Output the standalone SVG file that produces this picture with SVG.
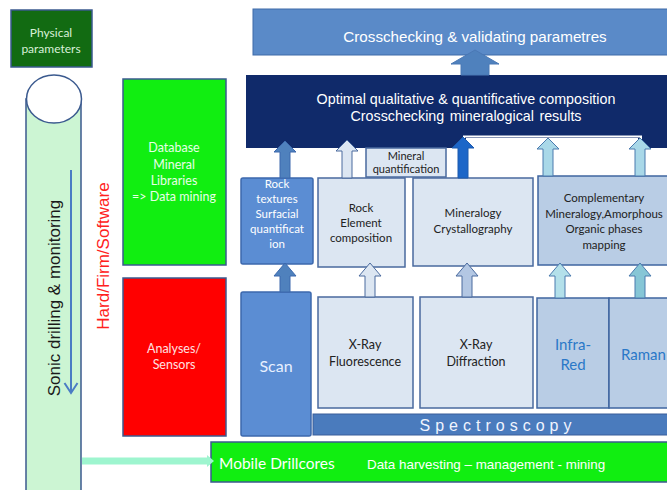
<svg xmlns="http://www.w3.org/2000/svg" width="667" height="490" viewBox="0 0 667 490">
<style>
.cal{font-family:Lato,"Open Sans","Liberation Sans",sans-serif}
.ari{font-family:"Liberation Sans",Arial,sans-serif}
.lt{fill:#dce6f2;stroke:#4a6a9e;stroke-width:1.5}
.md{fill:#b9cde5;stroke:#3f65a0;stroke-width:1.5}
.dk{fill:#5b8dd3;stroke:#3c68ad;stroke-width:1.5}
</style>
<rect width="667" height="490" fill="#ffffff"/>

<g id="physical">
<rect x="11" y="10" width="81" height="57" fill="#126b12" stroke="#3b5a8f" stroke-width="1.5"/>
<text class="cal" x="51" y="37" font-size="12" fill="#d8f0d8" text-anchor="middle">Physical</text>
<text class="cal" x="51" y="53" font-size="12" fill="#d8f0d8" text-anchor="middle">parameters</text>
</g>

<g id="cylinder">
<rect x="26" y="99" width="55" height="400" fill="#ccf5d3" stroke="#3b5a8f" stroke-width="1.5"/>
<ellipse cx="54" cy="99" rx="27.5" ry="24" fill="#ffffff" stroke="#3b5a8f" stroke-width="1.5"/>
<text class="ari" transform="translate(60,298) rotate(-90)" font-size="17" fill="#1a1a1a" text-anchor="middle">Sonic drilling &amp; monitoring</text>
</g>

<g id="hardfirm">
<text class="ari" transform="translate(109,256) rotate(-90)" font-size="17" fill="#ff2020" text-anchor="middle">Hard/Firm/Software</text>
</g>

<g id="database">
<rect x="123" y="79" width="103" height="186" fill="#11ee11" stroke="#3b5a8f" stroke-width="1.5"/>
<g class="cal" font-size="12.5" fill="#e8ffe8" text-anchor="middle">
<text x="174" y="152">Database</text>
<text x="174" y="169">Mineral</text>
<text x="174" y="185">Libraries</text>
<text x="174" y="201">=&gt; Data mining</text>
</g>
</g>

<g id="analyses">
<rect x="123" y="278" width="103" height="158" fill="#ff0000" stroke="#3b5a8f" stroke-width="1.5"/>
<text class="cal" x="174" y="353" font-size="12.5" fill="#ffe0e0" text-anchor="middle">Analyses/</text>
<text class="cal" x="174" y="369" font-size="12.5" fill="#ffe0e0" text-anchor="middle">Sensors</text>
</g>

<g id="crosscheck">
<rect x="253" y="9" width="420" height="46" fill="#5a8ac8" stroke="#3f6aa8" stroke-width="1"/>
<text class="ari" x="475" y="42" font-size="15.2" fill="#ffffff" text-anchor="middle">Crosschecking &amp; validating parametres</text>
</g>

<g id="optimal">
<rect x="246" y="75" width="425" height="73" fill="#102a6a"/>
<rect x="466" y="138" width="172" height="12" fill="#ffffff"/>
<polyline points="464,146 464,136.5 641,136.5 641,146" fill="none" stroke="#ffffff" stroke-width="2"/>
<text class="ari" x="466" y="104" font-size="14.3" fill="#ffffff" text-anchor="middle">Optimal qualitative &amp; quantificative composition</text>
<text class="ari" x="466" y="121" font-size="14.3" fill="#ffffff" text-anchor="middle" word-spacing="1.5">Crosschecking mineralogical results</text>
</g>

<g id="mineralquant">
<rect x="366" y="148" width="80" height="29" class="lt" stroke-width="1"/>
<text class="cal" x="406" y="160" font-size="11" fill="#222" text-anchor="middle">Mineral</text>
<text class="cal" x="406" y="173" font-size="11" fill="#222" text-anchor="middle">quantification</text>
</g>

<g id="rocktex">
<rect x="241" y="178" width="72" height="86" rx="2" class="dk"/>
<g class="cal" font-size="11.5" fill="#ffffff" text-anchor="middle">
<text x="277" y="188">Rock</text>
<text x="277" y="203">textures</text>
<text x="277" y="218">Surfacial</text>
<text x="277" y="233">quantificat</text>
<text x="277" y="248">ion</text>
</g>
</g>

<g id="rockelem">
<rect x="318" y="178" width="87" height="89" class="lt"/>
<g class="cal" font-size="11.5" fill="#222" text-anchor="middle">
<text x="361" y="212">Rock</text>
<text x="361" y="227">Element</text>
<text x="361" y="242">composition</text>
</g>
</g>

<g id="mineralogy">
<rect x="413" y="178" width="120" height="88" class="lt"/>
<g class="cal" font-size="11.5" fill="#222" text-anchor="middle">
<text x="473" y="217">Mineralogy</text>
<text x="473" y="233">Crystallography</text>
</g>
</g>

<g id="complementary">
<rect x="538" y="176" width="135" height="89" class="md"/>
<g class="cal" font-size="11.5" fill="#222" text-anchor="middle">
<text x="604" y="202">Complementary</text>
<text x="604" y="218">Mineralogy,Amorphous</text>
<text x="604" y="233">Organic phases</text>
<text x="604" y="249">mapping</text>
</g>
</g>

<g id="scan">
<rect x="241" y="292" width="70" height="144" rx="2" class="dk"/>
<text class="cal" x="276" y="372" font-size="16" fill="#e8f0ff" text-anchor="middle">Scan</text>
</g>

<g id="xrf">
<rect x="318" y="297" width="95" height="111" class="lt"/>
<text class="cal" x="365" y="349" font-size="12.5" fill="#222" text-anchor="middle">X-Ray</text>
<text class="cal" x="365" y="366" font-size="12.5" fill="#222" text-anchor="middle">Fluorescence</text>
</g>

<g id="xrd">
<rect x="420" y="297" width="113" height="111" class="lt"/>
<text class="cal" x="476" y="349" font-size="12.5" fill="#222" text-anchor="middle">X-Ray</text>
<text class="cal" x="476" y="366" font-size="12.5" fill="#222" text-anchor="middle">Diffraction</text>
</g>

<g id="infrared">
<rect x="537" y="298" width="72" height="110" class="md"/>
<text class="cal" x="573" y="350" font-size="15" fill="#2a78c8" text-anchor="middle">Infra-</text>
<text class="cal" x="573" y="370" font-size="15" fill="#2a78c8" text-anchor="middle">Red</text>
</g>

<g id="raman">
<rect x="609" y="298" width="64" height="110" class="md"/>
<text class="cal" x="621" y="360" font-size="15" fill="#2a78c8">Raman</text>
</g>

<g id="spectroscopy">
<rect x="313" y="414" width="360" height="21" fill="#4a7bbd" stroke="#3a5f9a" stroke-width="1"/>
<text class="ari" x="498" y="431" font-size="16" fill="#f0f4ff" text-anchor="middle" letter-spacing="5">Spectroscopy</text>
</g>

<g id="mobile">
<rect x="211" y="442" width="462" height="40" fill="#11ee11" stroke="#3b5a8f" stroke-width="1.5"/>
<text class="cal" x="219" y="469" font-size="15.5" fill="#ffffff">Mobile Drillcores</text>
<text class="ari" x="367" y="469" font-size="13.4" fill="#ffffff">Data harvesting – management - mining</text>
</g>

<g id="connectors">
<line x1="71" y1="170" x2="71" y2="392" stroke="#4a7cc4" stroke-width="2"/>
<polyline points="64.5,383 71,393 77.5,383" fill="none" stroke="#4a7cc4" stroke-width="2"/>
<line x1="82" y1="461" x2="210" y2="461" stroke="#9ef5cf" stroke-width="7"/>
<polygon points="207,455 214,461 207,467" fill="#9ef5cf"/>
<polygon points="475,50 499,64 489,64 489,75 461,75 461,64 451,64" fill="#4f81bd" stroke="#4a78b5" stroke-width="1"/>
<polygon points="285,141 296,152 290,152 290,178 280,178 280,152 274,152" fill="#4f81bd" stroke="#3c68ad" stroke-width="1"/>
<polygon points="347,140 358,151 352,151 352,178 342,178 342,151 336,151" fill="#dce6f2" stroke="#4a6a9e" stroke-width="1"/>
<polygon points="463,137 474,148 468,148 468,178 458,178 458,148 452,148" fill="#1c66c8" stroke="#1c5aae" stroke-width="1"/>
<polygon points="548,138 559,149 553,149 553,176 543,176 543,149 537,149" fill="#a9d8e8" stroke="#4a7aae" stroke-width="1"/>
<polygon points="640,138 651,149 645,149 645,176 635,176 635,149 629,149" fill="#a9d8e8" stroke="#4a7aae" stroke-width="1"/>
<polygon points="285,263 296,276 290,276 290,292 280,292 280,276 274,276" fill="#4f81bd" stroke="#3c68ad" stroke-width="1"/>
<polygon points="370,263 381,276 375,276 375,297 365,297 365,276 359,276" fill="#dce6f2" stroke="#4a6a9e" stroke-width="1"/>
<polygon points="467,263 478,276 472,276 472,297 462,297 462,276 456,276" fill="#b3c7e3" stroke="#4a6a9e" stroke-width="1"/>
<polygon points="560,263 571,276 565,276 565,298 555,298 555,276 549,276" fill="#b3e0ea" stroke="#4a7aae" stroke-width="1"/>
<polygon points="640,263 651,276 645,276 645,298 635,298 635,276 629,276" fill="#86c6d6" stroke="#4a7aae" stroke-width="1"/>
</g>
</svg>
